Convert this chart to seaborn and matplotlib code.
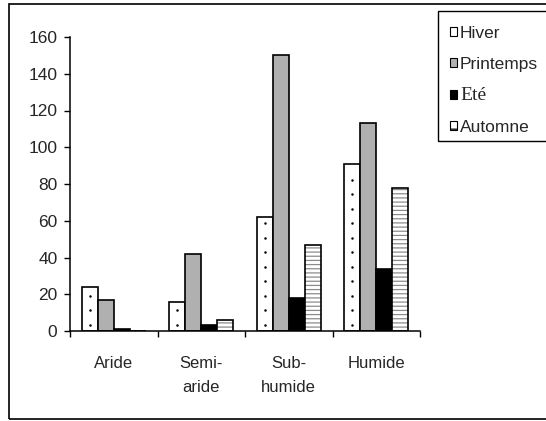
import matplotlib
matplotlib.use("Agg")
import matplotlib.pyplot as plt
from matplotlib.patches import Patch, Rectangle
import seaborn as sns
import numpy as np
import pandas as pd

# Rainfall by climate zone and season
regions = ["Aride", "Semi-\naride", "Sub-\nhumide", "Humide"]
seasons = ["Hiver", "Printemps", "Eté", "Automne"]
hiver = [24, 16, 62, 91]
printemps = [17, 42, 150, 113]
ete = [1, 3, 18, 34]
automne = [0, 6, 47, 78]
yticks = [0, 20, 40, 60, 80, 100, 120, 140, 160]

values = {"Hiver": hiver, "Printemps": printemps, "Eté": ete, "Automne": automne}
df = pd.DataFrame(
    [(r, s, values[s][i]) for s in seasons for i, r in enumerate(regions)],
    columns=["zone", "saison", "valeur"],
)

sns.set_theme(style="white")
plt.rcParams["font.family"] = ["Liberation Sans", "DejaVu Sans"]
plt.rcParams["hatch.linewidth"] = 0.9

# fill styles per season: (facecolor, hatch, hatch colour)
styles = {
    "Hiver": ("white", None, "black"),
    "Printemps": ("#b0b0b0", None, "black"),
    "Eté": ("black", None, "black"),
    "Automne": ("white", "----", "#8c8c8c"),
}

fig = plt.figure(figsize=(5.46, 4.21), dpi=100)
ax = fig.add_axes([70 / 546, 90 / 421, 350 / 546, 294 / 421])

sns.barplot(
    data=df, x="zone", y="valeur", hue="saison", order=regions,
    hue_order=seasons, width=0.73, legend=False, ax=ax, errorbar=None,
)

n = len(regions)
for k, s in enumerate(seasons):
    face, hatch, hcol = styles[s]
    for p in ax.patches[k * n:(k + 1) * n]:
        p.set_facecolor(face)
        p.set_hatch(hatch)
        p.set_edgecolor(hcol)
        if hcol != "black":
            p.set_linewidth(0)
            ax.add_patch(Rectangle((p.get_x(), p.get_y()), p.get_width(), p.get_height(),
                                   fill=False, edgecolor="black", linewidth=1.2,
                                   zorder=p.get_zorder() + 0.1))
        else:
            p.set_linewidth(1.2)
        if s == "Hiver":
            # sparse dotted texture down the middle of the bar
            yy = np.arange(3.3, p.get_height() - 2, 7.9)
            ax.scatter(np.full(len(yy), p.get_x() + p.get_width() / 2), yy,
                       s=3.2, color="black", linewidths=0, zorder=p.get_zorder() + 0.2)

ax.set_ylim(0, 160)
ax.set_yticks(yticks)
ax.set_xlim(-0.5, n - 0.5)
ax.set_xticks([i - 0.5 for i in range(n + 1)])
ax.set_xticklabels([])
ax.set_xticks(range(n), minor=True)
ax.set_xticklabels(regions, minor=True, fontsize=12, linespacing=1.75)
ax.tick_params(axis="x", which="minor", length=0, pad=18)
ax.tick_params(axis="x", which="major", length=4, width=1, color="black", direction="out", bottom=True)
ax.tick_params(axis="y", length=4, width=1, color="black", direction="out", left=True, labelsize=12.5, pad=5)
ax.set_xlabel("")
ax.set_ylabel("")
for side in ("top", "right"):
    ax.spines[side].set_visible(False)
for side in ("left", "bottom"):
    ax.spines[side].set_color("black")
    ax.spines[side].set_linewidth(1.1)

# legend with the same fill styles
handles = []
for s in seasons:
    face, hatch, hcol = styles[s]
    handles.append(Patch(facecolor=face, hatch="--" if hatch else None,
                         edgecolor="black", linewidth=0.8))
leg = fig.legend(
    handles, seasons, loc="upper left", bbox_to_anchor=(438 / 546, 1 - 14 / 421),
    frameon=False, fontsize=12.5, handlelength=0.42, handleheight=0.42,
    handletextpad=0.15, labelspacing=0.9, borderpad=0.7, borderaxespad=0,
)
for t in leg.get_texts():
    if t.get_text() == "Eté":
        t.set_family(["Liberation Serif", "DejaVu Serif"])
        t.set_fontsize(14)

# legend box, running past the right edge of the canvas
fig.patches.append(Rectangle((438 / 546, 1 - 141 / 421), 1.0, 130 / 421,
                             transform=fig.transFigure, fill=False,
                             edgecolor="black", linewidth=1.0))

# outer chart frame
fig.patches.append(Rectangle((9 / 546, 2 / 421), 1.2, 1 - 6 / 421, transform=fig.transFigure,
                             fill=False, edgecolor="black", linewidth=1.2))

fig.savefig("out.png", dpi=100)
